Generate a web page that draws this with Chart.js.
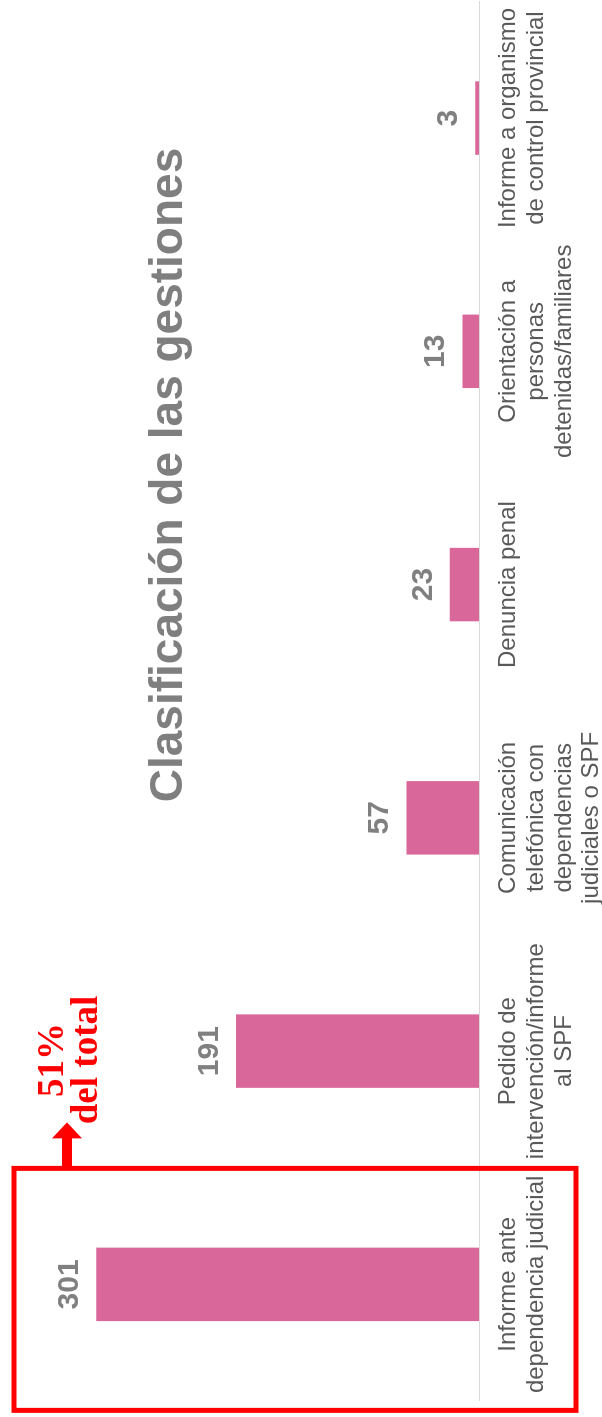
<!DOCTYPE html>
<html>
<head>
<meta charset="utf-8">
<script src="https://cdn.jsdelivr.net/npm/chart.js@4.4.0/dist/chart.umd.min.js"></script>
<style>
  html, body { margin: 0; padding: 0; background: #fff; overflow: hidden; }
  body { width: 602px; height: 1417px; position: relative; }
  /* chart is drawn landscape and turned a quarter left */
  #wrap {
    position: absolute; left: 0; top: 0;
    width: 1425px; height: 602px;
    transform-origin: 0 0;
    transform: translate(0, 1417px) rotate(-90deg);
  }
</style>
</head>
<body>
<div id="wrap"><canvas id="myChart" width="1425" height="602"></canvas></div>
<script>
// data
const categories = [
    ["Informe ante", "dependencia judicial"],
    ["Pedido de", "intervención/informe", "al SPF"],
    ["Comunicación", "telefónica con", "dependencias", "judiciales o SPF"],
    ["Denuncia penal"],
    ["Orientación a", "personas", "detenidas/familiares"],
    ["Informe a organismo", "de control provincial"]
];
const gestiones = [301, 191, 57, 23, 13, 3];
const titleText = "Clasificación de las gestiones";
const noteLines = ["51%", "del total"];

const barColor = "#d9679a";

// value labels above each bar
const valueLabels = {
    id: "valueLabels",
    afterDatasetsDraw(chart) {
        const ctx = chart.ctx;
        const meta = chart.getDatasetMeta(0);
        ctx.save();
        ctx.font = "bold 30px 'Liberation Sans', Arial, sans-serif";
        ctx.fillStyle = "#808080";
        ctx.textAlign = "center";
        ctx.textBaseline = "alphabetic";
        meta.data.forEach(function(bar, i){
            ctx.fillText(String(gestiones[i]), bar.x, bar.y - 18);
        });
        ctx.restore();
    }
};

// title + red box / arrow / note
const extras = {
    id: "extras",
    afterDraw(chart) {
        const ctx = chart.ctx;
        const x0 = chart.scales.x.getPixelForValue(0);
        ctx.save();
        ctx.font = "bold 46px 'Liberation Sans', Arial, sans-serif";
        ctx.fillStyle = "#7f7f7f";
        ctx.textAlign = "center";
        ctx.textBaseline = "alphabetic";
        ctx.fillText(titleText, 942, 182);

        // box round the first category
        ctx.strokeStyle = "#ff0000";
        ctx.lineWidth = 5;
        ctx.strokeRect(x0 - 126, 14, 242, 562);

        // arrow
        const ax = x0 + 116;
        ctx.fillStyle = "#ff0000";
        ctx.fillRect(ax, 62, 32, 10);
        ctx.beginPath();
        ctx.moveTo(ax + 30, 52);
        ctx.lineTo(ax + 46, 67);
        ctx.lineTo(ax + 30, 82);
        ctx.closePath();
        ctx.fill();

        ctx.font = "bold 37px 'Liberation Serif', 'Times New Roman', serif";
        ctx.textAlign = "center";
        ctx.fillText(noteLines[0], 357, 63);
        ctx.fillText(noteLines[1], 357, 97);
        ctx.restore();
    }
};

const ctx = document.getElementById("myChart").getContext("2d");
const myChart = new Chart(ctx, {
    type: "bar",
    data: {
        labels: categories,
        datasets: [{
            data: gestiones,
            backgroundColor: barColor,
            borderWidth: 0,
            categoryPercentage: 1,
            barPercentage: 0.315
        }]
    },
    options: {
        responsive: false,
        animation: false,
        devicePixelRatio: 1,
        layout: { padding: { top: 2, left: 16, right: 0, bottom: 0 } },
        plugins: {
            legend: { display: false },
            tooltip: { enabled: false },
            title: { display: false }
        },
        scales: {
            x: {
                grid: { display: false, drawTicks: false },
                border: { display: true, color: "#d9d9d9", width: 1 },
                ticks: {
                    color: "#595959",
                    padding: 16,
                    maxRotation: 0,
                    autoSkip: false,
                    font: { family: "'Liberation Sans', Arial, sans-serif", size: 24, lineHeight: 1.15 }
                },
                afterFit: function(scale){ scale.height = 123; }
            },
            y: {
                display: false,
                min: 0,
                max: 375
            }
        }
    },
    plugins: [valueLabels, extras]
});
</script>
</body>
</html>
